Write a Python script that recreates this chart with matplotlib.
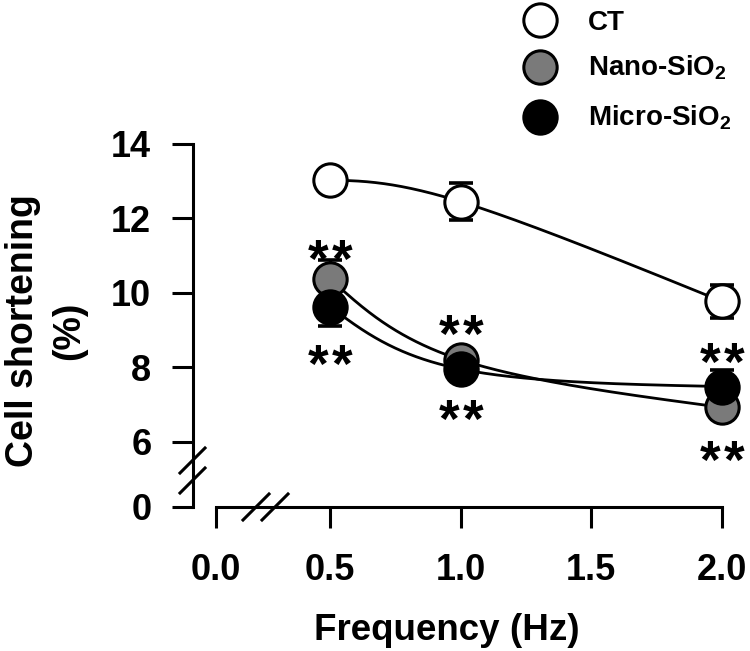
import numpy as np
import matplotlib
matplotlib.use('Agg')
import matplotlib.pyplot as plt
from matplotlib.lines import Line2D

plt.rcParams['font.family'] = ['Liberation Sans', 'DejaVu Sans']
plt.rcParams['font.weight'] = 'bold'
plt.rcParams['mathtext.fontset'] = 'custom'
plt.rcParams['mathtext.rm'] = 'Liberation Sans:bold'
plt.rcParams['mathtext.it'] = 'Liberation Sans:bold'
plt.rcParams['mathtext.bf'] = 'Liberation Sans:bold'

# ---------------- data ----------------
freq = [0.5, 1.0, 2.0]
series_names = ['CT', 'Nano-SiO$_2$', 'Micro-SiO$_2$']
ct_mean = [13.03, 12.45, 9.77]
ct_sem = [0.15, 0.50, 0.45]
nano_mean = [10.38, 8.20, 6.92]
nano_sem = [0.50, 0.25, 0.30]
micro_mean = [9.63, 7.95, 7.48]
micro_sem = [0.53, 0.25, 0.45]
xtick_values = [0.0, 0.5, 1.0, 1.5, 2.0]
xtick_labels = ['0.0', '0.5', '1.0', '1.5', '2.0']
ytick_values = [0, 6, 8, 10, 12, 14]
ytick_labels = ['0', '6', '8', '10', '12', '14']
sig_x = [0.5, 0.5, 1.0, 1.0, 2.0, 2.0]
sig_y = [11.23, 8.41, 9.21, 6.93, 8.46, 5.83]

# broken-axis mapping (0 is drawn closer than linear)
X_ZERO_POS = 0.0637
Y_ZERO_POS = 4.242


def xmap(v):
    return X_ZERO_POS if v == 0 else v


def ymap(v):
    return Y_ZERO_POS if v == 0 else v


def natural_spline_1d(t, v, ts):
    t = np.asarray(t, float)
    v = np.asarray(v, float)
    n = len(t)
    h = np.diff(t)
    A = np.zeros((n, n))
    b = np.zeros(n)
    A[0, 0] = 1
    A[-1, -1] = 1
    for i in range(1, n - 1):
        A[i, i - 1] = h[i - 1]
        A[i, i] = 2 * (h[i - 1] + h[i])
        A[i, i + 1] = h[i]
        b[i] = 6 * ((v[i + 1] - v[i]) / h[i] - (v[i] - v[i - 1]) / h[i - 1])
    M = np.linalg.solve(A, b)
    idx = np.clip(np.searchsorted(t, ts) - 1, 0, n - 2)
    t0 = t[idx]
    t1 = t[idx + 1]
    hh = h[idx]
    return (M[idx] * (t1 - ts) ** 3 / (6 * hh) + M[idx + 1] * (ts - t0) ** 3 / (6 * hh)
            + (v[idx] / hh - M[idx] * hh / 6) * (t1 - ts)
            + (v[idx + 1] / hh - M[idx + 1] * hh / 6) * (ts - t0))


def parametric_spline(x, y, n=300):
    t = np.arange(len(x), dtype=float)
    ts = np.linspace(0, len(x) - 1, n)
    return natural_spline_1d(t, x, ts), natural_spline_1d(t, y, ts)


W, H = 750, 651
fig = plt.figure(figsize=(W / 100, H / 100), dpi=100)
ax = fig.add_axes([193 / W, 1 - 507 / H, (722 - 193) / W, (507 - 144) / H])
ax.set_xlim(-0.0243, 2.0)
ax.set_ylim(Y_ZERO_POS, 14)

faces = ['white', '#7a7a7a', 'black']
means = [ct_mean, nano_mean, micro_mean]
sems = [ct_sem, nano_sem, micro_sem]

LW = 2.0
for m in means:
    xs, ys = parametric_spline(freq, m)
    ax.plot(xs, ys, color='black', lw=LW, zorder=2, clip_on=False)
for m, s in zip(means, sems):
    ax.errorbar(freq, m, yerr=s, fmt='none', ecolor='black', elinewidth=2.2,
                capsize=8.5, capthick=2.6, zorder=3, clip_on=False)
for i, (m, fc) in enumerate(zip(means, faces)):
    ax.plot(freq, m, linestyle='none', marker='o', ms=24, mfc=fc, mec='black',
            mew=2.2, zorder=4 + i, clip_on=False)

# significance marks (two stars per mark)
FS_SIG = 38
for x, y in zip(sig_x, sig_y):
    for dx in (-8.6, 8.6):
        ax.annotate('*', (x, y), xytext=(dx, -0.56 * FS_SIG), textcoords='offset points',
                    ha='center', va='baseline', fontsize=FS_SIG, fontweight='bold',
                    annotation_clip=False, zorder=10)

# axes styling
for sp in ['top', 'right']:
    ax.spines[sp].set_visible(False)
for sp in ['left', 'bottom']:
    ax.spines[sp].set_linewidth(2.2)
ax.spines['bottom'].set_bounds(X_ZERO_POS, 2.0)
ax.set_xticks([xmap(v) for v in xtick_values])
ax.set_xticklabels(xtick_labels)
ax.set_yticks([ymap(v) for v in ytick_values])
ax.set_yticklabels(ytick_labels)
ax.tick_params(axis='both', direction='out', length=15, width=2.2, labelsize=26)
ax.tick_params(axis='y', pad=15)
ax.tick_params(axis='x', pad=18)
for t in ax.get_xticklabels() + ax.get_yticklabels():
    t.set_fontweight('bold')

# axis labels
fig.text(46 / W, 1 - 331 / H, 'Cell shortening\n(%)', rotation=90, ha='center',
         va='center', fontsize=27, fontweight='bold', linespacing=1.35,
         multialignment='center')
fig.text(447 / W, 1 - 630 / H, 'Frequency (Hz)', ha='center', va='center',
         fontsize=26.5, fontweight='bold')


# break marks (figure pixels)
def fig_line(x0, y0, x1, y1):
    fig.add_artist(Line2D([x0 / W, x1 / W], [1 - y0 / H, 1 - y1 / H], color='black',
                          lw=2.2, transform=fig.transFigure))


fig_line(180, 473, 205, 448)
fig_line(180, 493, 205, 468)
fig_line(243, 520, 269, 494)
fig_line(262, 520, 288, 494)

# legend (manual)
leg_cy = [20, 67, 117]
leg_base = [30, 75, 125]
for name, fc, cy, by in zip(series_names, faces, leg_cy, leg_base):
    fig.add_artist(Line2D([540 / W], [1 - cy / H], marker='o', ms=24, mfc=fc,
                          mec='black', mew=2.2, linestyle='none',
                          transform=fig.transFigure))
    fig.text(588 / W, 1 - by / H, name, ha='left', va='baseline', fontsize=20,
             fontweight='bold')

fig.savefig('out.png', dpi=100)
